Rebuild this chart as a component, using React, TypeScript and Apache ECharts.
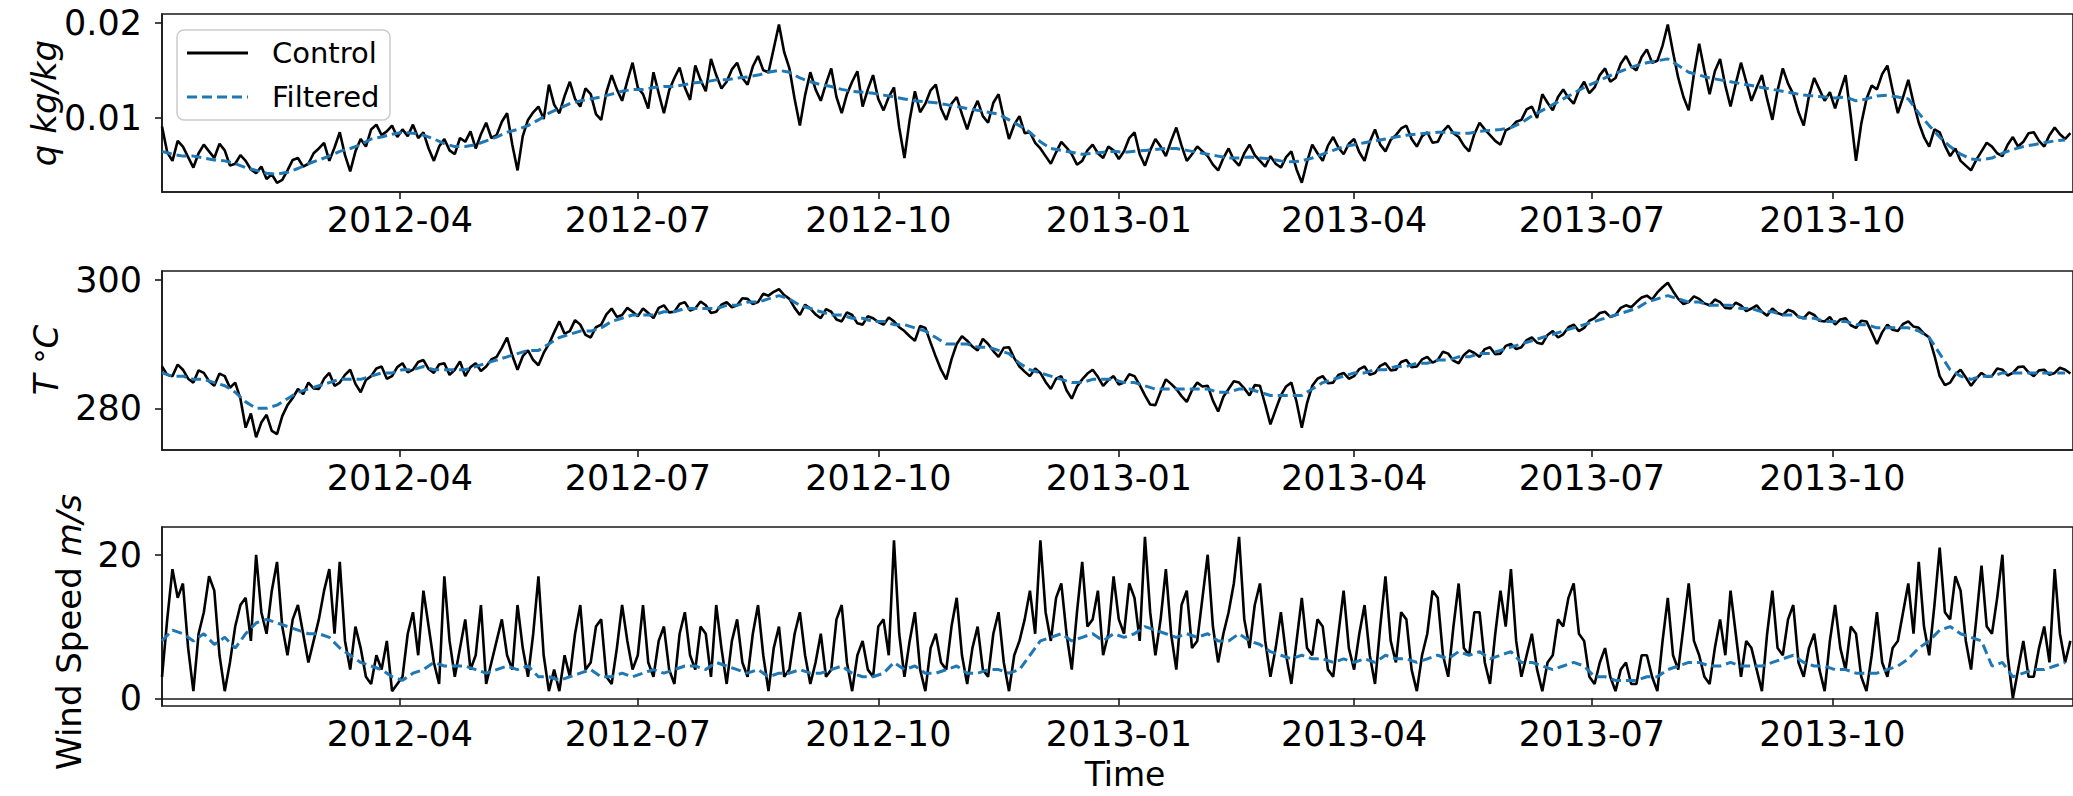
import React, { useEffect, useRef } from "react";
import * as echarts from "echarts";

// ---------- data ----------
// Control series sampled every 2 days, Filtered every 4 days, both from 2012-01-01
const START_DATE = Date.UTC(2012, 0, 1);
const CONTROL_STEP_DAYS = 2;
const FILTERED_STEP_DAYS = 4;

const xTickDates = [
  Date.UTC(2012, 3, 1), Date.UTC(2012, 6, 1), Date.UTC(2012, 9, 1),
  Date.UTC(2013, 0, 1), Date.UTC(2013, 3, 1), Date.UTC(2013, 6, 1), Date.UTC(2013, 9, 1),
];

const qControl = [
  0.0091, 0.0064, 0.0055, 0.0076, 0.007, 0.0059, 0.0048, 0.0063, 0.0072, 0.0065, 0.0058, 0.0073, 0.0066, 0.005, 0.0052, 0.0061,
  0.0055, 0.0046, 0.0042, 0.0049, 0.0036, 0.0041, 0.0032, 0.0035, 0.0045, 0.0056, 0.0058, 0.0049, 0.0052, 0.0063,
  0.0068, 0.0074, 0.0055, 0.0069, 0.0085, 0.0061, 0.0044, 0.0065, 0.0078, 0.007, 0.0088, 0.0093, 0.0082, 0.0086, 0.0092, 0.008,
  0.0088, 0.0081, 0.0093, 0.0079, 0.0085, 0.0068, 0.0055, 0.007, 0.0078, 0.0066, 0.0062, 0.0079, 0.0075, 0.0086, 0.0068, 0.0083,
  0.0095, 0.0079, 0.0082, 0.0096, 0.0105, 0.0072, 0.0045, 0.0081, 0.0098, 0.0106, 0.0112, 0.0099, 0.0135, 0.0114,
  0.0105, 0.0123, 0.0138, 0.012, 0.0112, 0.0131, 0.0125, 0.0104, 0.0098, 0.0127, 0.0145, 0.013, 0.0118, 0.0139, 0.0158, 0.0132,
  0.0125, 0.011, 0.0148, 0.0126, 0.0105, 0.0129, 0.0142, 0.0153, 0.0132, 0.0119, 0.0155, 0.014, 0.0128, 0.0162, 0.0145, 0.0131,
  0.0138, 0.0151, 0.0158, 0.0142, 0.0135, 0.0154, 0.0165, 0.015, 0.0148, 0.0173, 0.0198, 0.0169, 0.0152, 0.012,
  0.0092, 0.0124, 0.0148, 0.013, 0.0118, 0.0136, 0.0152, 0.0122, 0.0105, 0.0125, 0.0138, 0.0149, 0.0112, 0.013, 0.0145, 0.012,
  0.0108, 0.0122, 0.0132, 0.009, 0.0058, 0.0098, 0.0128, 0.0106, 0.0115, 0.0129, 0.0135, 0.011, 0.0098, 0.0115, 0.0122, 0.0104,
  0.0088, 0.0106, 0.0118, 0.0102, 0.0095, 0.0116, 0.0125, 0.01, 0.0078, 0.0093, 0.0102, 0.0084, 0.0085, 0.0074,
  0.0068, 0.006, 0.0052, 0.0064, 0.0075, 0.0069, 0.0062, 0.0051, 0.0055, 0.0066, 0.0072, 0.0063, 0.0058, 0.007, 0.0066, 0.0057,
  0.0065, 0.0079, 0.0085, 0.0062, 0.005, 0.0066, 0.0078, 0.007, 0.006, 0.0076, 0.009, 0.0071, 0.0055, 0.0062, 0.007, 0.0065,
  0.006, 0.0051, 0.0045, 0.0058, 0.0068, 0.0056, 0.005, 0.0063, 0.0072, 0.0061, 0.0055, 0.0049, 0.006, 0.0052,
  0.0048, 0.0059, 0.0065, 0.0046, 0.0032, 0.0054, 0.0072, 0.0063, 0.0055, 0.0071, 0.008, 0.0069, 0.0062, 0.0073,
  0.0078, 0.0064, 0.0055, 0.0075, 0.0088, 0.0072, 0.0065, 0.0077, 0.0082, 0.0089, 0.0092, 0.0078, 0.007, 0.0081, 0.0085, 0.0074,
  0.0075, 0.0086, 0.0092, 0.0084, 0.008, 0.0071, 0.0065, 0.0083, 0.0095, 0.0088, 0.0082, 0.0076, 0.0072, 0.0087, 0.009, 0.0096,
  0.0098, 0.0109, 0.0112, 0.01, 0.0125, 0.0116, 0.0108, 0.0122, 0.013, 0.0121, 0.0115, 0.0129, 0.0138, 0.0126,
  0.0132, 0.0145, 0.0152, 0.0138, 0.0142, 0.0157, 0.0165, 0.0154, 0.015, 0.0164, 0.0172, 0.0158, 0.016, 0.0176, 0.0198, 0.0169,
  0.0142, 0.0122, 0.0108, 0.0146, 0.0178, 0.015, 0.0125, 0.0149, 0.0162, 0.0134, 0.0112, 0.0136, 0.0158, 0.0138, 0.0118, 0.0132,
  0.0145, 0.012, 0.0098, 0.0129, 0.0152, 0.0136, 0.0125, 0.0106, 0.0092, 0.0123, 0.0142, 0.013, 0.0118, 0.0127,
  0.011, 0.0128, 0.0145, 0.0102, 0.0055, 0.0094, 0.012, 0.0134, 0.013, 0.0146, 0.0155, 0.0129, 0.0105, 0.0122, 0.014, 0.0116,
  0.0095, 0.008, 0.007, 0.0088, 0.0085, 0.0071, 0.006, 0.0068, 0.0055, 0.005, 0.0045, 0.0056, 0.0065, 0.0074,
  0.007, 0.0063, 0.006, 0.0072, 0.008, 0.007, 0.0075, 0.0084, 0.0085, 0.0076, 0.007, 0.0082, 0.009, 0.0083, 0.0078, 0.0084,
];

const qFiltered = [
  0.0065, 0.0062, 0.006, 0.006, 0.0058, 0.0056, 0.0055, 0.0052,
  0.0048, 0.0045, 0.0042, 0.0041, 0.0043, 0.0047, 0.0052,
  0.0056, 0.006, 0.0065, 0.0068, 0.0072, 0.0078, 0.008, 0.0083,
  0.0085, 0.0084, 0.0082, 0.0078, 0.0073, 0.007, 0.007, 0.0072,
  0.0076, 0.008, 0.0085, 0.0088, 0.0092, 0.0098, 0.0105,
  0.011, 0.0115, 0.0118, 0.012, 0.0122, 0.0125, 0.0128, 0.013,
  0.013, 0.0132, 0.0133, 0.0133, 0.0135, 0.0137, 0.0138, 0.014,
  0.014, 0.0142, 0.0143, 0.0145, 0.0148, 0.015, 0.0148,
  0.0142, 0.0138, 0.0135, 0.0133, 0.013, 0.0128, 0.0127, 0.0126,
  0.0124, 0.0122, 0.012, 0.0118, 0.0117, 0.0116, 0.0114, 0.0112,
  0.011, 0.0108, 0.0106, 0.0104, 0.0098, 0.0092, 0.0085,
  0.0075, 0.0068, 0.0066, 0.0064, 0.0062, 0.0063, 0.0064, 0.0065,
  0.0064, 0.0065, 0.0066, 0.0067, 0.0068, 0.0068, 0.0066, 0.0064,
  0.0062, 0.006, 0.0058, 0.0058, 0.0059, 0.0058, 0.0057,
  0.0055, 0.0054, 0.0055, 0.0058, 0.0062, 0.0066, 0.007,
  0.0072, 0.0074, 0.0076, 0.0078, 0.008, 0.0082, 0.0083, 0.0084,
  0.0085, 0.0085, 0.0084, 0.0084, 0.0086, 0.0087, 0.0088, 0.009,
  0.0095, 0.0102, 0.0108, 0.0114, 0.012, 0.0126, 0.0132,
  0.0137, 0.0142, 0.0147, 0.0151, 0.0155, 0.0158, 0.016, 0.0162,
  0.0155, 0.0148, 0.0145, 0.0142, 0.014, 0.0138, 0.0136, 0.0134,
  0.0132, 0.013, 0.0128, 0.0126, 0.0124, 0.0123, 0.0122,
  0.0121, 0.0122, 0.0118, 0.012, 0.0123, 0.0124, 0.0122, 0.012,
  0.0105, 0.0092, 0.008, 0.007, 0.0062, 0.0057, 0.0056,
  0.0058, 0.0063, 0.0067, 0.007, 0.0072, 0.0074, 0.0076, 0.0077,
];

const tControl = [
  286.5, 285.2, 285, 286.8, 286, 284.6, 284, 285.9, 285.5, 284.2, 283.5, 285.4, 285, 283.2, 284, 281.5,
  277, 279.2, 275.5, 277.8, 279, 276.5, 276, 278.8, 280.5, 281.6, 283, 282.2, 284, 283.1,
  283, 284.6, 285.5, 283.5, 284, 285.2, 286, 283.8, 282.5, 284.4, 285, 286.2, 286.5, 284.6, 285, 286.4,
  287, 285.6, 286, 287.2, 287.5, 286.1, 285.5, 286.8, 287, 285.2, 286, 287.3, 285, 286.4, 287, 285.8,
  286.5, 287.6, 288, 289.4, 291, 288.2, 286, 288.1, 289, 287.5, 286.7, 288.6, 290, 291.8,
  293.5, 291.6, 292, 293.7, 293, 291.4, 291, 292.6, 293, 294.6, 295.5, 294.2, 294.5, 295.6, 295, 294.3,
  295.5, 294.8, 294, 295.6, 296, 294.9, 295, 296.2, 296.5, 295.2, 295.5, 296.6, 296, 294.8, 295, 296.1,
  296.5, 295.7, 296, 297.1, 297, 296.2, 296.5, 297.8, 297.5, 298.1, 298.5, 297.6, 297, 295.6,
  294.5, 296.1, 295.5, 294.6, 294, 295.4, 295, 293.8, 293.5, 294.9, 294.5, 293.2, 293, 294.3, 294, 293.4,
  293, 294.1, 293.5, 292.6, 292, 291.2, 290.5, 292.8, 292.5, 290.2, 288, 286, 284.5, 287.6, 290, 291.2,
  290.5, 289.6, 289, 290.8, 290, 288.9, 288, 289.4, 289.5, 287.8, 286.5, 285.7, 285, 286.2,
  285.5, 284.1, 283, 284.6, 285, 282.8, 281.5, 283.4, 284.5, 285.4, 286, 284.9, 283.5, 284.4, 285, 283.7,
  284, 285.3, 285, 283.6, 282, 280.6, 280.5, 282.6, 284.5, 283.8, 283, 281.9, 281, 282.8, 284, 283.4,
  283.5, 281.2, 279.5, 281.8, 283, 284.2, 284, 283.1, 282, 283.6, 283.5, 280.6, 277.5, 279.8,
  282, 283.4, 284, 281, 277, 280.8, 283.5, 284.6, 285, 283.9, 284, 285.2, 285.5, 284.6,
  285, 286.1, 286.5, 285.2, 285.5, 286.6, 287, 285.9, 286, 287.2, 287.5, 286.4, 286.5, 287.6, 288, 287.1,
  287.5, 288.8, 288.5, 287.4, 287, 288.3, 289, 288.6, 288, 289.2, 289.5, 288.4, 288.5, 289.7, 290, 289.2,
  289.5, 290.6, 291, 290.2, 290, 291.4, 292, 291, 291.5, 292.6, 293, 292, 292.5, 293.6,
  294, 294.8, 295, 294.2, 294.5, 295.6, 296, 295.7, 296.5, 297.2, 297.5, 296.9, 298, 298.8, 299.5, 298.2,
  297, 296.2, 296.5, 297.4, 297, 296.3, 296, 296.9, 296.5, 295.6, 295.5, 296.4, 296, 295.1, 295.5, 296,
  295, 294.4, 295.5, 294.8, 294.5, 295.3, 295, 294.2, 294, 294.9, 294.5, 293.6, 293.5, 294.2,
  293, 293.8, 294, 292.9, 292.5, 293.6, 293.5, 291.8, 290, 291.8, 293, 292.2, 292, 293.1, 293.5, 292.7,
  292.5, 291.6, 291, 288.2, 285, 283.6, 284, 285.3, 286, 284.8, 283.5, 284.6, 285.5, 284.9,
  285, 286.2, 286, 285.1, 285.5, 286.4, 286.5, 285.6, 285, 285.9, 286, 285.2, 285.5, 286.3, 286, 285.4,
];

const tFiltered = [
  285.5, 285, 285, 284.5, 284.5, 284, 283.5, 282.5,
  281, 280, 280, 280.5, 281.5, 282.5, 283,
  283.5, 284, 284.5, 284.5, 284.5, 285, 285.5, 285.5,
  286, 286, 286.5, 286, 286, 286, 286, 286.5,
  287, 287.5, 288, 288.5, 289, 289, 290,
  291, 291.5, 292, 292, 292.5, 293.5, 294, 294.5,
  294.5, 294.5, 295, 295, 295.5, 295.5, 295.5, 295.5,
  296, 296, 296.5, 296.5, 297, 297.5, 297,
  296, 295.5, 295, 294.5, 294.5, 294, 294, 293.5,
  293.5, 293, 293, 292.5, 292, 291, 290, 290,
  290, 289.5, 289.5, 289, 288.5, 287, 286,
  285.5, 285, 284.5, 284, 284, 284.5, 284.5, 284.5,
  284, 284, 283.5, 283, 283, 283, 283, 283,
  283, 282.5, 282.5, 283, 283, 282.5, 282,
  282, 282, 282, 283, 284, 284.5, 285,
  285.5, 285.5, 286, 286, 286.5, 286.5, 287, 287,
  287.5, 287.5, 288, 288, 288.5, 288.5, 289, 289.5,
  290, 290.5, 291, 291.5, 292, 292.5, 293,
  293.5, 294, 294.5, 295, 295.5, 296.5, 297, 297.5,
  297, 296.5, 296.5, 296, 296, 296, 295.5, 295.5,
  295, 295, 294.5, 294.5, 294, 294, 293.5,
  293.5, 293.5, 293, 293, 292.5, 292.5, 292.5, 292.5,
  292, 291, 288.5, 286, 285, 284.5, 285,
  285, 285.5, 285.5, 285.5, 285.5, 285.5, 285.5, 285.5,
];

const windControl = [
  3, 11, 18, 14, 16, 7, 1, 9, 12, 17, 15, 6, 1, 5, 10, 13,
  14, 8, 20, 12, 9, 15, 19, 10, 6, 11, 13, 9, 5, 8,
  11, 15, 18, 9, 19, 8, 4, 10, 7, 3, 2, 6, 4, 8, 1, 2,
  3, 9, 12, 6, 15, 10, 5, 2, 17, 8, 3, 7, 11, 4, 6, 13,
  2, 5, 8, 11, 6, 4, 13, 7, 3, 9, 17, 6, 1, 4,
  1, 6, 3, 9, 13, 4, 5, 10, 11, 3, 2, 7, 13, 8, 4, 6,
  13, 5, 3, 8, 10, 4, 2, 9, 12, 6, 4, 10, 9, 3, 13, 7,
  2, 8, 11, 5, 3, 9, 13, 6, 1, 7, 10, 3, 4, 9,
  12, 6, 2, 5, 9, 3, 4, 11, 13, 5, 1, 6, 8, 4, 3, 10,
  11, 6, 22, 9, 3, 8, 12, 4, 1, 7, 9, 5, 4, 10, 14, 6,
  2, 7, 10, 4, 3, 9, 12, 5, 1, 6, 8, 11, 15, 9,
  22, 12, 8, 14, 16, 9, 4, 12, 19, 10, 11, 15, 6, 9, 17, 11,
  9, 16, 14, 8, 22.5, 12, 6, 11, 18, 9, 4, 13, 15, 7, 8, 14,
  20, 10, 5, 9, 12, 16, 22.5, 11, 7, 13, 16, 8, 3, 7,
  12, 6, 2, 8, 14, 7, 6, 11, 10, 4, 3, 9, 15, 7,
  4, 9, 13, 6, 2, 10, 17, 8, 5, 12, 11, 4, 1, 6, 9, 15,
  14, 6, 3, 10, 16, 7, 6, 12, 12, 5, 2, 9, 15, 10, 18, 8,
  3, 6, 9, 4, 1, 5, 6, 11, 10, 14, 16, 9, 8, 3,
  2, 5, 7, 3, 1, 4, 5, 2, 2, 6, 6, 3, 1, 8, 14, 6,
  4, 10, 16, 8, 6, 3, 2, 7, 11, 6, 15, 9, 3, 8, 7, 4,
  1, 9, 15, 7, 6, 11, 13, 5, 3, 7, 9, 4, 1, 8,
  13, 7, 4, 10, 9, 3, 1, 6, 12, 5, 3, 7, 8, 12, 16, 9,
  19, 10, 6, 13, 21, 12, 11, 17, 15, 8, 4, 11, 18.5, 10,
  9, 14, 20, 6, 0, 4, 8, 3, 3, 7, 10, 5, 18, 9, 5, 8,
];

const windFiltered = [
  8, 9.5, 9, 8, 9, 7.5, 8.5, 7,
  9, 10.5, 11, 10.5, 10, 9.5, 9,
  9, 8.5, 7, 6, 5, 4.5, 4, 3,
  2.5, 3.5, 4, 5, 4.5, 4.5, 4.5, 4,
  3.5, 4, 4.5, 4, 4.5, 3, 3,
  2.5, 3, 3.5, 4, 3, 3, 3.5, 3,
  3.5, 4, 3.5, 4, 4.5, 4.5, 4, 5,
  4.5, 4, 3.5, 4, 3, 3.5, 3.5,
  4, 3.5, 3.5, 4, 4.5, 3.5, 3, 3,
  3.5, 5, 4, 4.5, 3.5, 3.5, 4, 4.5,
  3.5, 3.5, 4, 4, 3.5, 4, 6,
  8, 8.5, 9, 8, 8.5, 9, 8, 9,
  8.5, 9, 10, 9.5, 9, 8.5, 9, 8.5,
  9, 8, 8, 9, 8, 7.5, 6.5,
  6, 5.5, 6, 5.5, 5.5, 5, 5.5,
  5, 5.5, 5, 6, 5.5, 5.5, 5, 5.5,
  6, 5.5, 6.5, 6, 6.5, 5.5, 6, 6.5,
  5, 5, 4.5, 4, 4.5, 5, 4.5,
  3, 3, 2.5, 2.5, 2.5, 3, 3, 4,
  4.5, 5, 5, 4.5, 4.5, 5, 4.5, 4.5,
  4.5, 5, 5.5, 6, 5, 4.5, 4.5,
  4, 4, 3.5, 3.5, 3.5, 4, 4.5, 5.5,
  7, 8, 9.5, 10, 9, 8.5, 8,
  4.5, 5, 3, 3.5, 4, 4, 4.5, 5,
];

const qTicks = [0.01, 0.02];
const tTicks = [280, 300];
const windTicks = [0, 20];

// ---------- layout / style ----------
const FONT = "DejaVu Sans";
const TICK_FONT = 35;
const LABEL_FONT = 34;
const BLUE = "#1f77b4";

const panels = [
  { top: 14, height: 178, min: 0.002235, max: 0.02091, ticks: qTicks, fmt: (v: number) => v.toFixed(2), control: qControl, filtered: qFiltered },
  { top: 271, height: 179, min: 273.53, max: 301.33, ticks: tTicks, fmt: (v: number) => String(Math.round(v)), control: tControl, filtered: tFiltered },
  { top: 527, height: 179, min: -1.07, max: 23.87, ticks: windTicks, fmt: (v: number) => String(Math.round(v)), control: windControl, filtered: windFiltered },
];

const toPairs = (arr: number[], stepDays: number) =>
  arr.map((v, i) => [START_DATE + i * stepDays * 86400000, v]);

const fmtDate = (v: number) => {
  const d = new Date(v);
  return `${d.getUTCFullYear()}-${String(d.getUTCMonth() + 1).padStart(2, "0")}`;
};

function buildOption() {
  const grid = panels.map((p) => ({
    left: 162,
    width: 1920,
    top: p.top,
    height: p.height,
    show: true,
    borderColor: "#1a1a1a",
    borderWidth: 1.6,
    backgroundColor: "transparent",
  }));
  const xAxis = panels.map((_, k) => ({
    type: "value",
    gridIndex: k,
    min: START_DATE,
    max: Date.UTC(2014, 0, 1),
    splitLine: { show: false },
    axisLine: { show: true, lineStyle: { color: "#1a1a1a", width: 1.6 } },
    axisTick: { show: true, length: 7, customValues: xTickDates, lineStyle: { color: "#1a1a1a", width: 1.6 } },
    axisLabel: {
      customValues: xTickDates,
      formatter: fmtDate,
      fontSize: TICK_FONT,
      fontFamily: FONT,
      color: "#000",
      margin: 10,
    },
  }));
  const yAxis = panels.map((p, k) => ({
    type: "value",
    gridIndex: k,
    min: p.min,
    max: p.max,
    splitLine: { show: false },
    axisLine: { show: true, lineStyle: { color: "#1a1a1a", width: 1.6 } },
    axisTick: { show: true, length: 7, customValues: p.ticks, lineStyle: { color: "#1a1a1a", width: 1.6 } },
    axisLabel: {
      customValues: p.ticks,
      formatter: p.fmt,
      fontSize: TICK_FONT,
      fontFamily: FONT,
      color: "#000",
      margin: 20,
    },
  }));
  const series: any[] = [];
  panels.forEach((p, k) => {
    series.push({
      type: "line",
      name: "Control",
      xAxisIndex: k,
      yAxisIndex: k,
      data: toPairs(p.control, CONTROL_STEP_DAYS),
      showSymbol: false,
      symbol: "none",
      silent: true,
      z: 2,
      lineStyle: { color: "#000", width: 2.6 },
      itemStyle: { color: "#000" },
    });
    series.push({
      type: "line",
      name: "Filtered",
      xAxisIndex: k,
      yAxisIndex: k,
      data: toPairs(p.filtered, FILTERED_STEP_DAYS),
      showSymbol: false,
      symbol: "none",
      silent: true,
      z: 3,
      lineStyle: { color: BLUE, width: 3, type: [10, 5] },
      itemStyle: { color: BLUE },
    });
  });

  const textBase = {
    fontFamily: FONT,
    fontSize: LABEL_FONT,
    fill: "#000",
    textAlign: "center",
    textVerticalAlign: "middle",
    align: "center",
    verticalAlign: "middle",
  };
  const italic = { fontStyle: "italic", fontSize: LABEL_FONT, fontFamily: FONT, fill: "#000" };
  const roman = { fontSize: LABEL_FONT, fontFamily: FONT, fill: "#000" };

  const graphic = [
    {
      type: "text", x: 44, y: 103, rotation: Math.PI / 2, z: 100,
      style: { ...textBase, text: "{i|q kg/kg}", rich: { i: italic } },
    },
    {
      type: "text", x: 46, y: 360, rotation: Math.PI / 2, z: 100,
      style: { ...textBase, text: "{i|T} {d|°}{i|C}", rich: { i: italic, d: { ...roman, fontSize: 30 } } },
    },
    {
      type: "text", x: 69, y: 632, rotation: Math.PI / 2, z: 100,
      style: { ...textBase, text: "{r|Wind Speed }{i|m/s}", rich: { r: roman, i: italic } },
    },
    {
      type: "text", x: 1125, y: 774, z: 100,
      style: { ...textBase, text: "Time", fontSize: 33 },
    },
    // legend
    {
      type: "rect", z: 100,
      shape: { x: 177, y: 30, width: 213, height: 90, r: 7 },
      style: { fill: "rgba(255,255,255,0.85)", stroke: "#cccccc", lineWidth: 1.5 },
    },
    {
      type: "line", z: 101,
      shape: { x1: 187, y1: 53, x2: 248, y2: 53 },
      style: { stroke: "#000", lineWidth: 3 },
    },
    {
      type: "text", x: 272, y: 53, z: 101,
      style: { text: "Control", fontFamily: FONT, fontSize: 29, fill: "#000", textVerticalAlign: "middle", verticalAlign: "middle" },
    },
    {
      type: "line", z: 101,
      shape: { x1: 187, y1: 97, x2: 248, y2: 97 },
      style: { stroke: BLUE, lineWidth: 3, lineDash: [10, 5] },
    },
    {
      type: "text", x: 272, y: 97, z: 101,
      style: { text: "Filtered", fontFamily: FONT, fontSize: 29, fill: "#000", textVerticalAlign: "middle", verticalAlign: "middle" },
    },
  ];

  return {
    animation: false,
    backgroundColor: "#ffffff",
    grid,
    xAxis,
    yAxis,
    series,
    graphic,
  };
}

export default function App() {
  const ref = useRef<HTMLDivElement>(null);
  useEffect(() => {
    document.body.style.margin = "0";
    document.body.style.overflow = "hidden";
    const chart = echarts.init(ref.current as HTMLDivElement, undefined, { renderer: "svg" });
    chart.setOption(buildOption() as any);
    return () => chart.dispose();
  }, []);
  return <div ref={ref} style={{ width: 2073, height: 796 }} />;
}
